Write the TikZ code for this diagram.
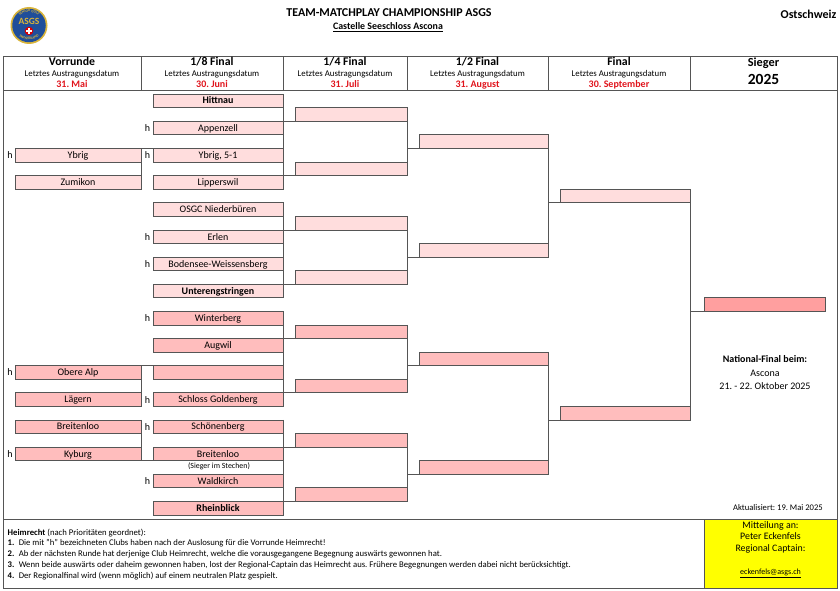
\documentclass[tikz,border=0pt]{standalone}
\usepackage{fontspec}
\setmainfont{Carlito}
\usetikzlibrary{positioning,decorations.text}
\definecolor{frameline}{HTML}{555555}
\definecolor{pinklight}{HTML}{FFDDDD}
\definecolor{pinkmid}{HTML}{FFBDBD}
\definecolor{pinkfull}{HTML}{FF9F9F}
\definecolor{noticeyellow}{HTML}{FFFF00}
\definecolor{logoblue}{HTML}{1F4E9A}
\definecolor{logogold}{HTML}{D9B43A}
\definecolor{datered}{HTML}{E0141C}
\tikzset{
  cell/.style={rectangle,draw=frameline,line width=0.8pt,inner sep=0pt,outer sep=0pt,anchor=north west},
  head/.style={cell,minimum height=34pt,font=\fontsize{8.8}{11}\selectfont,align=center},
  team/.style={cell,minimum height=13.6pt,text height=8pt,text depth=1.6pt,font=\fontsize{10}{10}\selectfont},
  vor/.style={team,minimum width=126pt,anchor=north east},
  achtel/.style={team,minimum width=130pt},
  viertel/.style={team,minimum width=112pt,anchor=south west},
  halb/.style={team,minimum width=129pt},
  fin/.style={team,minimum width=130pt},
  heim/.style={font=\fontsize{10}{10}\selectfont,text height=7pt,text depth=0pt},
  boldname/.style={font=\fontsize{10}{10}\selectfont\bfseries},
  link/.style={draw=frameline,line width=0.8pt},
  ringtext/.style={decorate,decoration={text along path,text align=center,text color=logogold,
    text={|\fontsize{3.6}{4}\selectfont\bfseries|#1}}}
}
\newcommand{\headtitle}[1]{{\fontsize{11.8}{11}\selectfont\bfseries\rule{0pt}{10pt}#1}\\}
\newcommand{\headdate}[1]{\\{\fontsize{10}{11}\selectfont\bfseries\color{datered}\rule[-2.5pt]{0pt}{0pt}#1}}
\frenchspacing
\begin{document}
\begin{tikzpicture}[x=1pt,y=-1pt]
  \useasboundingbox (0,0) rectangle (840,591);
  % logo
  \node[circle,fill=logogold,minimum size=37pt,inner sep=0pt] (logoring) at (29,25.5) {};
  \node[circle,fill=logoblue,minimum size=33.5pt,inner sep=0pt] (logodisc) at (29,25.5) {};
  \path[ringtext={SENIOR GOLF}] (16.3,20.9) arc[start angle=160,end angle=20,radius=13.5pt];
  \path[ringtext={SWITZERLAND}] (14.9,31) arc[start angle=205,end angle=335,radius=15.5pt];
  \node[text=logogold,font=\fontsize{9.5}{8}\selectfont\bfseries] (logotext) at (29,21.5) {ASGS};
  \node[circle,fill=red!85!black,minimum size=8.5pt,inner sep=0pt] (logoflag) at (29,31) {};
  \node[rectangle,fill=white,minimum width=6pt,minimum height=1.8pt,inner sep=0pt] (logobar) at (29,31) {};
  \node[rectangle,fill=white,minimum width=1.8pt,minimum height=6pt,inner sep=0pt] (logopost) at (29,31) {};
  % titles
  \node[font=\fontsize{12}{12}\selectfont\bfseries] (title) at (389,13) {TEAM-MATCHPLAY CHAMPIONSHIP ASGS};
  \node[font=\fontsize{9.9}{11}\selectfont\bfseries] (place) at (388,27) {\underline{Castelle Seeschloss Ascona}};
  \node[font=\fontsize{12}{12}\selectfont\bfseries] (region) at (808.5,14) {Ostschweiz};
  % header row
  \node[head,minimum width=138pt] (hvor) at (3,56) {\headtitle{Vorrunde}Letztes Austragungsdatum\headdate{31. Mai}};
  \node[head,minimum width=142pt] (hacht) at (141,56) {\headtitle{1/8 Final}Letztes Austragungsdatum\headdate{30. Juni}};
  \node[head,minimum width=124pt] (hvier) at (283,56) {\headtitle{1/4 Final}Letztes Austragungsdatum\headdate{31. Juli}};
  \node[head,minimum width=141pt] (hhalb) at (407,56) {\headtitle{1/2 Final}Letztes Austragungsdatum\headdate{31. August}};
  \node[head,minimum width=142pt] (hfin) at (548,56) {\headtitle{Final}Letztes Austragungsdatum\headdate{30. September}};
  \node[head,minimum width=147pt] (hsieg) at (690,56) {{\fontsize{12.3}{14}\selectfont\bfseries Sieger}\\[4.5pt]{\fontsize{15.5}{15}\selectfont\bfseries\rule[-4pt]{0pt}{0pt}2025}};
  % frames
  \node[cell,minimum width=834pt,minimum height=429pt] (main) at (3,90) {};
  \node[cell,minimum width=701pt,minimum height=69pt] (rules) at (3,519) {};
  \node[cell,fill=noticeyellow,minimum width=133pt,minimum height=69pt] (notice) at (704,519) {};
  % 1/8 Final
  \node[achtel,fill=pinklight,boldname] (a1) at (153,94) {Hittnau};
  \node[achtel,fill=pinklight] (a2) at (153,121.2) {Appenzell};
  \node[achtel,fill=pinklight] (a3) at (153,148.5) {Ybrig, 5-1};
  \node[achtel,fill=pinklight] (a4) at (153,175.6) {Lipperswil};
  \node[achtel,fill=pinklight] (a5) at (153,202.8) {OSGC Niederbüren};
  \node[achtel,fill=pinklight] (a6) at (153,230) {Erlen};
  \node[achtel,fill=pinklight] (a7) at (153,257.1) {Bodensee-Weissensberg};
  \node[achtel,fill=pinklight,boldname] (a8) at (153,284.2) {Unterengstringen};
  \node[achtel,fill=pinkmid] (a9) at (153,311.4) {Winterberg};
  \node[achtel,fill=pinkmid] (a10) at (153,338.5) {Augwil};
  \node[achtel,fill=pinkmid] (a11) at (153,365.6) {};
  \node[achtel,fill=pinkmid] (a12) at (153,392.7) {Schloss Goldenberg};
  \node[achtel,fill=pinkmid] (a13) at (153,419.9) {Schönenberg};
  \node[achtel,fill=pinkmid] (a14) at (153,447) {Breitenloo};
  \node[achtel,fill=pinkmid] (a15) at (153,474.2) {Waldkirch};
  \node[achtel,fill=pinkmid,boldname] (a16) at (153,501.3) {Rheinblick};
  % Vorrunde
  \node[vor,fill=pinklight] (v1) at ([xshift=-12pt]a3.north west) {Ybrig};
  \node[vor,fill=pinklight] (v2) at ([xshift=-12pt]a4.north west) {Zumikon};
  \node[vor,fill=pinkmid] (v3) at ([xshift=-12pt]a11.north west) {Obere Alp};
  \node[vor,fill=pinkmid] (v4) at ([xshift=-12pt]a12.north west) {Lägern};
  \node[vor,fill=pinkmid] (v5) at ([xshift=-12pt]a13.north west) {Breitenloo};
  \node[vor,fill=pinkmid] (v6) at ([xshift=-12pt]a14.north west) {Kyburg};
  % 1/4 Final
  \node[viertel,fill=pinklight] (q1) at ([xshift=12pt]a2.north east) {};
  \node[viertel,fill=pinklight] (q2) at ([xshift=12pt]a4.north east) {};
  \node[viertel,fill=pinklight] (q3) at ([xshift=12pt]a6.north east) {};
  \node[viertel,fill=pinklight] (q4) at ([xshift=12pt]a8.north east) {};
  \node[viertel,fill=pinkmid] (q5) at ([xshift=12pt]a10.north east) {};
  \node[viertel,fill=pinkmid] (q6) at ([xshift=12pt]a12.north east) {};
  \node[viertel,fill=pinkmid] (q7) at ([xshift=12pt]a14.north east) {};
  \node[viertel,fill=pinkmid] (q8) at ([xshift=12pt]a16.north east) {};
  % 1/2 Final
  \node[halb,fill=pinklight] (s1) at (419,134.8) {};
  \node[halb,fill=pinklight] (s2) at (419,243.4) {};
  \node[halb,fill=pinkmid] (s3) at (419,352) {};
  \node[halb,fill=pinkmid] (s4) at (419,460.6) {};
  % Final
  \node[fin,fill=pinklight] (f1) at (560,189.1) {};
  \node[fin,fill=pinkmid] (f2) at (560,406.3) {};
  % Sieger
  \node[team,fill=pinkfull,minimum width=121pt] (win) at (704,297.8) {};
  % home marks
  \node[heim] (h1) at (10,155.3) {h};
  \node[heim] (h2) at (10,372.4) {h};
  \node[heim] (h3) at (10,453.8) {h};
  \node[heim] (h4) at (147.5,128) {h};
  \node[heim] (h5) at (147.5,155.3) {h};
  \node[heim] (h6) at (147.5,236.8) {h};
  \node[heim] (h7) at (147.5,263.9) {h};
  \node[heim] (h8) at (147.5,318.2) {h};
  \node[heim] (h9) at (147.5,399.5) {h};
  \node[heim] (h10) at (147.5,426.7) {h};
  \node[heim] (h11) at (147.5,481) {h};
  % notes
  \node[font=\fontsize{7.9}{8}\selectfont] (tie) at (219,466) {(Sieger im Stechen)};
  \node[font=\fontsize{10}{13.6}\selectfont,align=center] (national) at (765,372.7) {\textbf{National-Final beim:}\\Ascona\\21. - 22. Oktober 2025};
  \node[font=\fontsize{8.6}{10}\selectfont,anchor=east,inner sep=0pt] (update) at (823,507.6) {Aktualisiert: 19. Mai 2025};
  \node[font=\fontsize{8.7}{10.8}\selectfont,align=left,anchor=north west,inner sep=0pt] (rulestext) at (7.5,528.5) {\textbf{Heimrecht} (nach Prioritäten geordnet):\\
    \textbf{1.}\enspace Die mit "h" bezeichneten Clubs haben nach der Auslosung für die Vorrunde Heimrecht!\\
    \textbf{2.}\enspace Ab der nächsten Runde hat derjenige Club Heimrecht, welche die vorausgegangene Begegnung auswärts gewonnen hat.\\
    \textbf{3.}\enspace Wenn beide auswärts oder daheim gewonnen haben, lost der Regional-Captain das Heimrecht aus. Frühere Begegnungen werden dabei nicht berücksichtigt.\\
    \textbf{4.}\enspace Der Regionalfinal wird (wenn möglich) auf einem neutralen Platz gespielt.};
  \node[font=\fontsize{9.9}{11.6}\selectfont,align=center,anchor=north,inner sep=0pt] (noticetext) at ([yshift=-2pt]notice.north) {Mitteilung an:\\Peter Eckenfels\\Regional Captain:\\ \\{\fontsize{8}{11.6}\selectfont\underline{eckenfels@asgs.ch}}};
  % Vorrunde links
  \draw[link] (v1.north east) -- (v2.south east);
  \draw[link] (v3.north east) -- (v4.south east);
  \draw[link] (v5.north east) -- (v6.south east);
  \draw[link] (v1.north east) -- (a3.north west);
  \draw[link] (v3.north east) -- (a11.north west);
  \draw[link] (v6.south east) -- (a14.south west);
  % 1/8 links
  \draw[link] (a1.north east) -- (a4.south east);
  \draw[link] (a5.north east) -- (a8.south east);
  \draw[link] (a9.north east) -- (a12.south east);
  \draw[link] (a13.north east) -- (a16.south east);
  \draw[link] (a2.north east) -- (q1.south west);
  \draw[link] (a4.north east) -- (q2.south west);
  \draw[link] (a6.north east) -- (q3.south west);
  \draw[link] (a8.north east) -- (q4.south west);
  \draw[link] (a10.north east) -- (q5.south west);
  \draw[link] (a12.north east) -- (q6.south west);
  \draw[link] (a14.north east) -- (q7.south west);
  \draw[link] (a16.north east) -- (q8.south west);
  % 1/4 links
  \draw[link] (q1.north east) -- (q2.south east);
  \draw[link] (q3.north east) -- (q4.south east);
  \draw[link] (q5.north east) -- (q6.south east);
  \draw[link] (q7.north east) -- (q8.south east);
  \draw[link] (s1.south west) -- (s1.south west -| q1.east);
  \draw[link] (s2.south west) -- (s2.south west -| q3.east);
  \draw[link] (s3.south west) -- (s3.south west -| q5.east);
  \draw[link] (s4.south west) -- (s4.south west -| q7.east);
  % 1/2 links
  \draw[link] (s1.north east) -- (s2.south east);
  \draw[link] (s3.north east) -- (s4.south east);
  \draw[link] (f1.south west) -- (f1.south west -| s1.east);
  \draw[link] (f2.south west) -- (f2.south west -| s3.east);
  % final links
  \draw[link] (f1.north east) -- (f2.south east);
  \draw[link] (win.south west) -- (win.south west -| f1.east);
\end{tikzpicture}
\end{document}
